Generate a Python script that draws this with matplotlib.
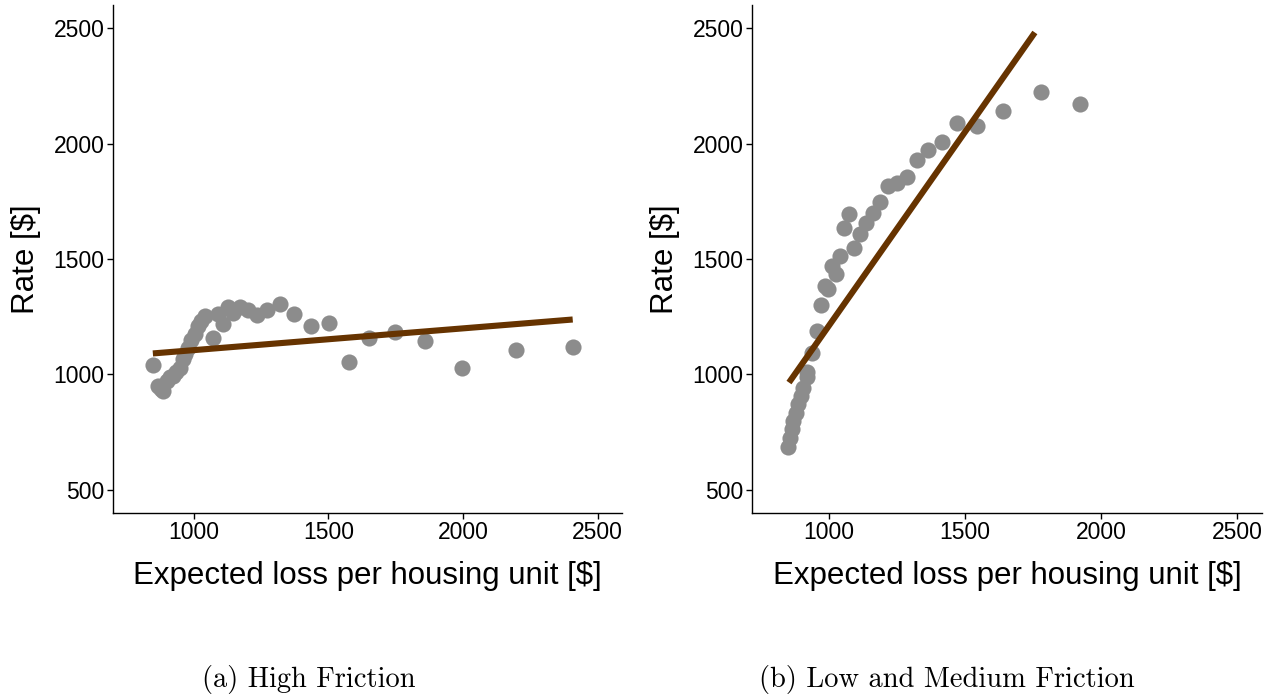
import matplotlib.pyplot as plt

# high friction counties: expected loss vs rate
hi_loss = [847, 867, 880, 885, 899, 911, 923, 935, 948, 960, 966, 979, 991,
           1003, 1015, 1028, 1041, 1072, 1089, 1108, 1127, 1145, 1171, 1201,
           1234, 1271, 1319, 1371, 1434, 1501, 1575, 1650, 1746, 1859, 1997,
           2198, 2408]
hi_rate = [1039, 952, 935, 930, 971, 987, 993, 1010, 1030, 1065, 1090, 1115,
           1150, 1175, 1210, 1231, 1255, 1160, 1262, 1218, 1290, 1268, 1290,
           1281, 1258, 1281, 1305, 1262, 1208, 1222, 1056, 1156, 1183, 1147,
           1030, 1105, 1120]
hi_fit_x = [848, 2407]
hi_fit_y = [1091, 1238]

# low and medium friction counties
lo_loss = [850, 857, 863, 869, 878, 887, 897, 906, 918, 920, 936, 955, 971,
           985, 997, 1010, 1025, 1040, 1056, 1075, 1093, 1114, 1136, 1163,
           1187, 1218, 1251, 1286, 1325, 1365, 1414, 1469, 1545, 1641, 1778,
           1923]
lo_rate = [687, 726, 762, 798, 834, 870, 906, 942, 990, 1010, 1091, 1188,
           1299, 1382, 1368, 1469, 1433, 1512, 1635, 1693, 1548, 1610, 1654,
           1700, 1746, 1818, 1827, 1856, 1928, 1970, 2007, 2087, 2075, 2143,
           2222, 2173]
lo_fit_x = [853, 1757]
lo_fit_y = [965, 2481]

ticks = [500, 1000, 1500, 2000, 2500]

plt.rcParams['font.family'] = ['Liberation Sans', 'DejaVu Sans']

fig = plt.figure(figsize=(12.81, 6.98), dpi=100)
ax1 = fig.add_axes([113 / 1281, 1 - 513 / 698, 509 / 1281, 508 / 698])
ax2 = fig.add_axes([752 / 1281, 1 - 513 / 698, 510 / 1281, 508 / 698])

panels = [(ax1, hi_loss, hi_rate, hi_fit_x, hi_fit_y, (700, 2590)),
          (ax2, lo_loss, lo_rate, lo_fit_x, lo_fit_y, (717, 2592))]

for ax, x, y, fx, fy, xlim in panels:
    ax.scatter(x, y, s=135, color='#8c8c8c', linewidths=0, zorder=2)
    ax.plot(fx, fy, color='#663300', lw=4.4, solid_capstyle='butt', zorder=3)
    ax.set_xlim(*xlim)
    ax.set_ylim(400, 2600)
    ax.set_xticks([1000, 1500, 2000, 2500])
    ax.set_yticks(ticks)
    ax.spines['top'].set_visible(False)
    ax.spines['right'].set_visible(False)
    for s in ['left', 'bottom']:
        ax.spines[s].set_linewidth(1.0)
    ax.tick_params(length=4, width=1, labelsize=16.5, colors='black', pad=2)
    ax.set_xlabel('Expected loss per housing unit [$]', fontsize=22.5, labelpad=12)
    ax.set_ylabel('Rate [$]', fontsize=22.5, labelpad=9)

fig.text(309 / 1281, 1 - 679 / 698, '(a) High Friction', family='cmr10',
         fontsize=20.5, ha='center', va='center')
fig.text(947 / 1281, 1 - 679 / 698, '(b) Low and Medium Friction', family='cmr10',
         fontsize=20.5, ha='center', va='center')

plt.savefig('out.png', dpi=100)
